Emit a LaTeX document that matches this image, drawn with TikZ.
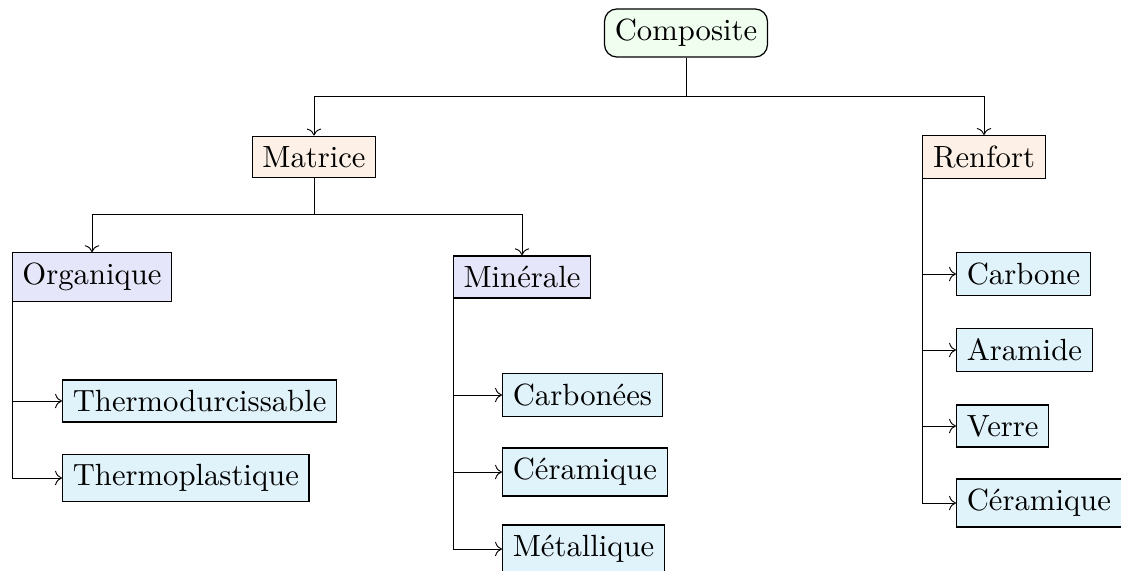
\documentclass[tikz,border=0pt]{standalone}
\usetikzlibrary{arrows.meta}
\definecolor{cgreen}{RGB}{240,254,240}
\definecolor{corange}{RGB}{253,240,230}
\definecolor{cviolet}{RGB}{230,230,250}
\definecolor{ccyan}{RGB}{224,242,250}
\begin{document}
\begin{tikzpicture}[x=0.326pt,y=-0.326pt,
  box/.style={draw,inner sep=3.33pt},
  rootbox/.style={box,fill=cgreen,rounded corners=4pt},
  lvlone/.style={box,fill=corange},
  lvltwo/.style={box,fill=cviolet},
  leaf/.style={box,fill=ccyan,anchor=west},
  conn/.style={->,line width=0.3pt},
  plain/.style={line width=0.3pt}]
\useasboundingbox (0,0) rectangle (1121,571);
\node[rootbox] (comp) at (686,33) {Composite};
\node[lvlone] (mat) at (314,157) {Matrice};
\node[lvlone] (ren) at (984,157) {Renfort};
\node[lvltwo] (org) at (92,277) {Organique};
\node[lvltwo] (min) at (522,277) {Minérale};
\node[leaf] (thd) at (62,401) {Thermodurcissable};
\node[leaf] (thp) at (62,478) {Thermoplastique};
\node[leaf] (carb) at (502,395) {Carbonées};
\node[leaf] (cer) at (502,472) {Céramique};
\node[leaf] (met) at (502,549) {Métallique};
\node[leaf] (rcarb) at (956,274) {Carbone};
\node[leaf] (ara) at (956,350) {Aramide};
\node[leaf] (ver) at (956,426) {Verre};
\node[leaf] (rcer) at (956,503) {Céramique};
% root to level one
\coordinate (j1) at (686,96);
\draw[plain] (comp.south) -- (j1);
\draw[conn] (j1) -| (mat.north);
\draw[conn] (j1) -| (ren.north);
% Matrice to level two
\coordinate (j2) at (314,214);
\draw[plain] (mat.south) -- (j2);
\draw[conn] (j2) -| (org.north);
\draw[conn] (j2) -| (min.north);
% Organique children
\draw[conn] ([xshift=0.2pt]org.south west) |- (thd.west);
\draw[conn] ([xshift=0.2pt]org.south west) |- (thp.west);
% Minerale children
\draw[conn] ([xshift=0.2pt]min.south west) |- (carb.west);
\draw[conn] ([xshift=0.2pt]min.south west) |- (cer.west);
\draw[conn] ([xshift=0.2pt]min.south west) |- (met.west);
% Renfort children
\draw[conn] ([xshift=0.2pt,yshift=1.5pt]ren.south west) |- (rcarb.west);
\draw[conn] ([xshift=0.2pt,yshift=1.5pt]ren.south west) |- (ara.west);
\draw[conn] ([xshift=0.2pt,yshift=1.5pt]ren.south west) |- (ver.west);
\draw[conn] ([xshift=0.2pt,yshift=1.5pt]ren.south west) |- (rcer.west);
\end{tikzpicture}
\end{document}
